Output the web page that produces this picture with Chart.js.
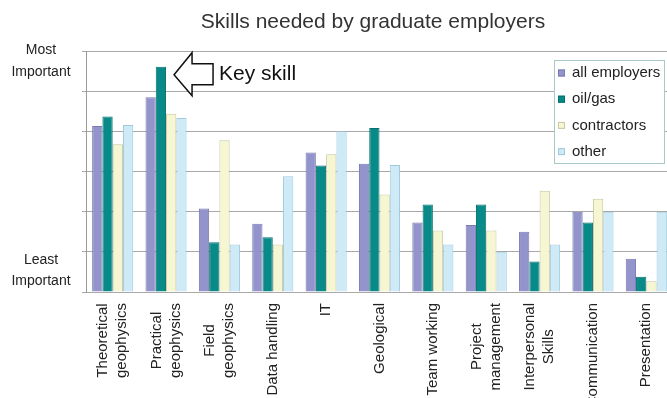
<!DOCTYPE html>
<html>
<head>
<meta charset="utf-8">
<script src="https://cdn.jsdelivr.net/npm/chart.js@4"></script>
<style>
  html, body { margin: 0; padding: 0; background: #fff; overflow: hidden; }
  #wrap { width: 680px; height: 398px; }
</style>
</head>
<body>
<div id="wrap"><canvas id="chart" width="680" height="398"></canvas></div>
<script>
const titleText = 'Skills needed by graduate employers';
const skills = [
  ['Theoretical', 'geophysics'], ['Practical', 'geophysics'], ['Field', 'geophysics'],
  'Data handling', 'IT', 'Geological', 'Team working', ['Project', 'management'],
  ['Interpersonal', 'Skills'], 'Communication', 'Presentation'
];
const allEmployers = [4.13, 4.85, 2.08, 1.70, 3.47, 3.19, 1.73, 1.67, 1.50, 2.00, 0.83];
const oilGas       = [4.37, 5.61, 1.24, 1.36, 3.15, 4.08, 2.18, 2.18, 0.76, 1.73, 0.38];
const contractors  = [3.68, 4.44, 3.78, 1.18, 3.43, 2.43, 1.53, 1.53, 2.52, 2.32, 0.27];
const other        = [4.16, 4.33, 1.18, 2.88, 4.00, 3.16, 1.18, 1.00, 1.18, 2.00, 2.00];
const topLabel = ['Most', 'Important'];
const bottomLabel = ['Least', 'Important'];
const calloutText = 'Key skill';

const FONT = '"Liberation Sans", Arial, sans-serif';
Chart.defaults.font.family = FONT;

const series = [
  { label: 'all employers', data: allEmployers, backgroundColor: '#9494cc', borderColor: '#7a7ab2' },
  { label: 'oil/gas',       data: oilGas,       backgroundColor: '#078a88', borderColor: '#05706e' },
  { label: 'contractors',   data: contractors,  backgroundColor: '#f6f6d2', borderColor: '#c9c9a2' },
  { label: 'other',         data: other,        backgroundColor: '#cdeaf6', borderColor: '#9fc9dc' }
];

const decor = {
  id: 'decor',
  afterDraw(chart) {
    const { ctx, scales: { x, y } } = chart;
    ctx.save();

    // title
    ctx.fillStyle = '#333';
    ctx.font = '21px ' + FONT;
    ctx.textAlign = 'center';
    ctx.textBaseline = 'alphabetic';
    ctx.fillText(titleText, 373, 28);

    // y end labels
    const top = y.getPixelForValue(y.max), bot = y.getPixelForValue(y.min);
    ctx.fillStyle = '#222';
    ctx.font = '14px ' + FONT;
    ctx.fillText(topLabel[0], 41, top + 3);
    ctx.fillText(topLabel[1], 41, top + 25);
    ctx.fillText(bottomLabel[0], 41, bot - 28);
    ctx.fillText(bottomLabel[1], 41, bot - 7);

    // category labels, rotated, lines centred as a block
    ctx.font = '15px ' + FONT;
    ctx.textBaseline = 'middle';
    skills.forEach((lab, i) => {
      const lines = Array.isArray(lab) ? lab : [lab];
      const w = Math.max(...lines.map(l => ctx.measureText(l).width));
      const cx = x.getPixelForValue(i);
      lines.forEach((l, j) => {
        ctx.save();
        ctx.translate(cx + (j - (lines.length - 1) / 2) * 19, bot + 11);
        ctx.rotate(-Math.PI / 2);
        ctx.fillText(l, -w / 2, 0);
        ctx.restore();
      });
    });

    // callout arrow on the practical geophysics oil/gas bar
    const bar = chart.getDatasetMeta(1).data[1];
    const tx = bar.x + bar.width / 2 + 8, ty = bar.y + 8;
    const pts = [[0, 0], [18, -22], [18, -11], [39, -11], [39, 10], [18, 10], [18, 21]];
    ctx.beginPath();
    pts.forEach(([dx, dy], k) => k ? ctx.lineTo(tx + dx, ty + dy) : ctx.moveTo(tx + dx, ty + dy));
    ctx.closePath();
    ctx.fillStyle = '#fff';
    ctx.fill();
    ctx.lineWidth = 1.5;
    ctx.strokeStyle = '#111';
    ctx.stroke();
    ctx.fillStyle = '#111';
    ctx.font = '21px ' + FONT;
    ctx.textAlign = 'left';
    ctx.textBaseline = 'alphabetic';
    ctx.fillText(calloutText, tx + 45, ty + 5);

    // legend box
    ctx.fillStyle = '#fff';
    ctx.fillRect(554, 60, 111, 104);
    ctx.lineWidth = 1;
    ctx.strokeStyle = '#a9c9c9';
    ctx.strokeRect(554.5, 60.5, 110, 103);
    ctx.font = '15px ' + FONT;
    ctx.textBaseline = 'middle';
    chart.data.datasets.forEach((ds, k) => {
      const ly = 73 + k * 26.2;
      ctx.fillStyle = ds.backgroundColor;
      ctx.fillRect(558, ly - 3.5, 7, 7);
      ctx.strokeStyle = ds.borderColor;
      ctx.strokeRect(558.5, ly - 3, 6, 6);
      ctx.fillStyle = '#222';
      ctx.fillText(ds.label, 572, ly);
    });

    ctx.restore();
  }
};

new Chart(document.getElementById('chart'), {
  type: 'bar',
  data: {
    labels: skills.map(s => Array.isArray(s) ? s.join(' ') : s),
    datasets: series.map(s => Object.assign({ borderWidth: 1 }, s))
  },
  options: {
    responsive: false,
    animation: false,
    layout: { padding: { top: 51, right: 7, left: 0, bottom: 0 } },
    datasets: { bar: { categoryPercentage: 0.77, barPercentage: 1 } },
    plugins: { legend: { display: false }, title: { display: false }, tooltip: { enabled: false } },
    scales: {
      x: {
        ticks: { display: false },
        grid: { display: false },
        border: { display: false },
        afterFit: s => { s.height = 106; }
      },
      y: {
        min: 0, max: 6,
        ticks: { display: false, stepSize: 1 },
        grid: { color: '#a8a8a8', tickLength: 4 },
        border: { color: '#9a9a9a' },
        afterFit: s => { s.width = 86; }
      }
    }
  },
  plugins: [decor]
});
</script>
</body>
</html>
